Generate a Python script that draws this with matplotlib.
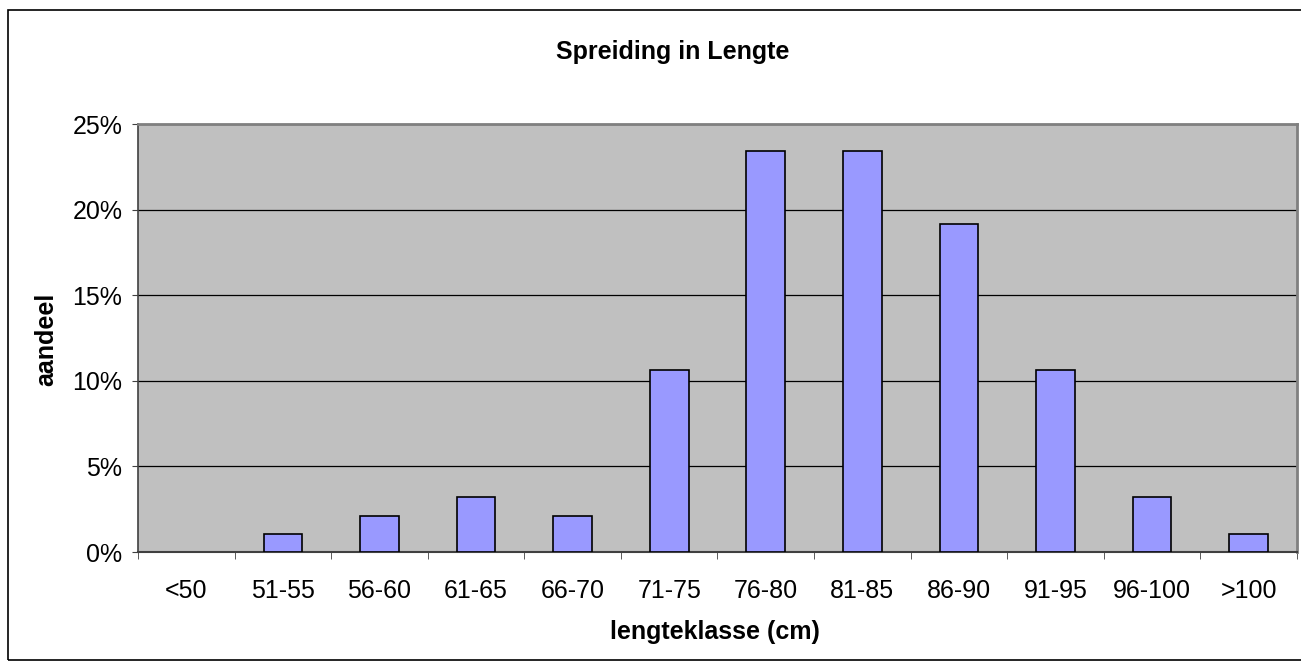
import matplotlib.pyplot as plt
import numpy as np
from matplotlib.patches import Rectangle
from matplotlib.ticker import PercentFormatter, FixedLocator

plt.rcParams['font.family'] = ['Liberation Sans', 'DejaVu Sans']

# lengteklassen en aandeel
klassen = ['<50', '51-55', '56-60', '61-65', '66-70', '71-75', '76-80',
           '81-85', '86-90', '91-95', '96-100', '>100']
aandeel = [0.0, 0.0106, 0.0213, 0.0319, 0.0213, 0.1064, 0.2340,
           0.2340, 0.1915, 0.1064, 0.0319, 0.0106]

W, H = 1301, 662
fig = plt.figure(figsize=(W / 100, H / 100), dpi=100)
ax = fig.add_axes([138 / W, 1 - 552 / H, (1297 - 138) / W, (552 - 124) / H])

# kader rond de grafiek
fig.patches.append(Rectangle((8 / W, 1 - 660 / H), 1.2, (660 - 10) / H,
                             transform=fig.transFigure, fill=False,
                             edgecolor='black', linewidth=1.2))

x = np.arange(len(klassen))
ax.set_facecolor('#c0c0c0')
lw = [0 if v == 0 else 1.2 for v in aandeel]
ax.bar(x, aandeel, width=0.4, color='#9999ff', edgecolor='black', linewidth=lw, zorder=3)

ax.set_xlim(-0.5, len(klassen) - 0.5)
ax.set_ylim(0, 0.25)
ax.set_yticks(np.arange(0, 0.2501, 0.05))
ax.yaxis.set_major_formatter(PercentFormatter(1.0, decimals=0))
ax.grid(axis='y', color='black', linewidth=0.9, zorder=1)

ax.set_xticks(x)
ax.set_xticklabels(klassen, fontsize=18)
ax.tick_params(axis='x', which='major', length=0, pad=19.5)
ax.xaxis.set_minor_locator(FixedLocator(np.arange(-0.5, len(klassen), 1)))
ax.tick_params(axis='x', which='minor', length=5, color='#404040', direction='out')
ax.tick_params(axis='y', labelsize=18, length=4.3, color='#404040', pad=7)

for s in ['top', 'right']:
    ax.spines[s].set_color('#808080')
    ax.spines[s].set_linewidth(2)
ax.spines['left'].set_color('#404040')
ax.spines['bottom'].set_color('#404040')
ax.spines['left'].set_linewidth(1.2)
ax.spines['bottom'].set_linewidth(1.5)

fig.text(673 / W, 1 - 52 / H, 'Spreiding in Lengte', ha='center', va='center',
         fontsize=18, fontweight='bold')
fig.text(715 / W, 1 - 632 / H, 'lengteklasse (cm)', ha='center', va='center',
         fontsize=18, fontweight='bold')
fig.text(46 / W, 1 - 339 / H, 'aandeel', ha='center', va='center',
         fontsize=18, fontweight='bold', rotation=90)

fig.savefig('out.png', dpi=100)
